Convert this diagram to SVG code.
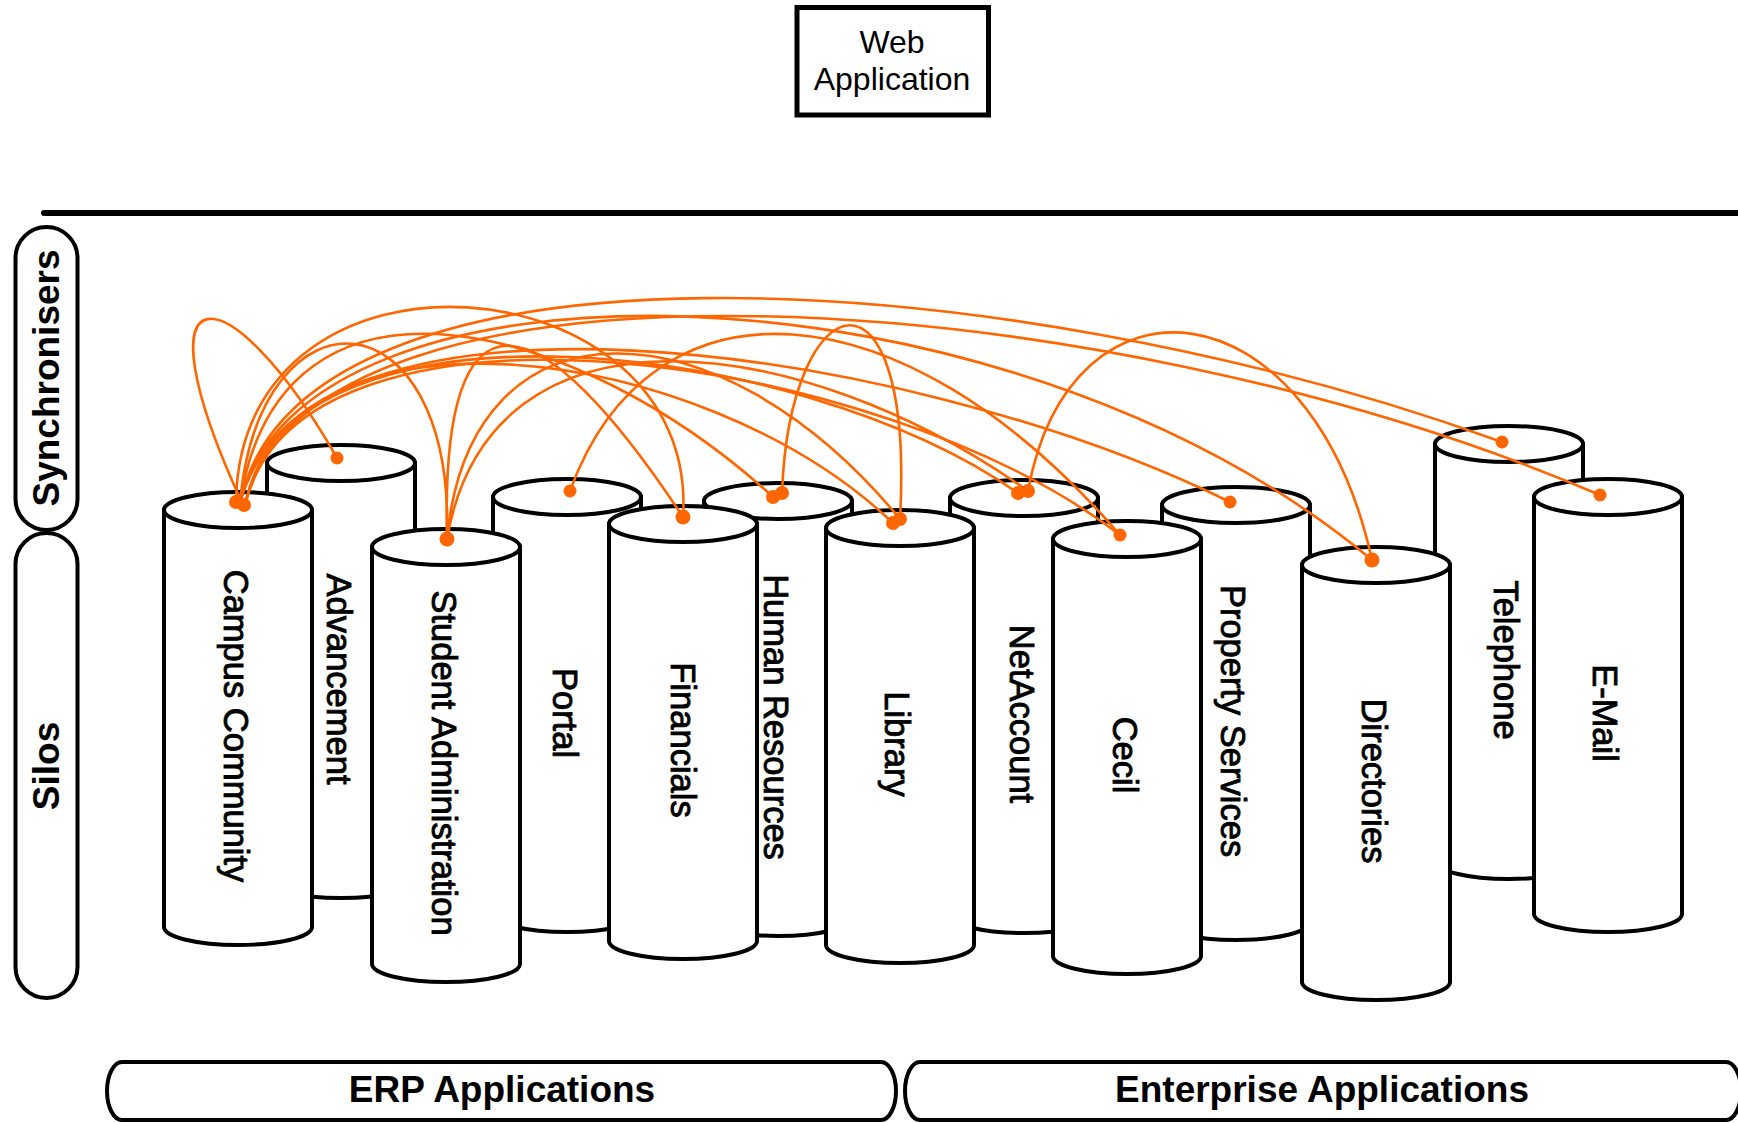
<svg xmlns="http://www.w3.org/2000/svg" width="1738" height="1123" viewBox="0 0 1738 1123">
  <style>
    .outline { fill: #ffffff; stroke: #000000; stroke-width: 4; }
    .label { font-family: "Liberation Sans", Arial, sans-serif; font-size: 34.5px; fill: #000000; stroke: #000000; stroke-width: 0.9; text-anchor: middle; }
    .band { font-family: "Liberation Sans", Arial, sans-serif; font-size: 37px; font-weight: bold; fill: #000000; text-anchor: middle; }
    .web { font-family: "Liberation Sans", Arial, sans-serif; font-size: 32px; fill: #000000; text-anchor: middle; }
    .sync { fill: none; stroke: #ff6600; stroke-width: 2.6; }
    .dot { fill: #ff6600; }
  </style>
  <defs>
    <!-- a silo: open body plus its top ellipse, centred on x=0, top at y=0 -->
    <g id="silo">
      <path class="outline" d="M-74,0 V417 A74,18 0 0 0 74,417 V0 Z"/>
      <ellipse class="outline" cx="0" cy="0" rx="74" ry="18"/>
    </g>
  </defs>

  <rect width="1738" height="1123" fill="#ffffff"/>

  <!-- web application box -->
  <g id="web-application">
    <rect x="797" y="7.5" width="191.5" height="107.5" fill="#ffffff" stroke="#000000" stroke-width="5"/>
    <text class="web" x="892" y="52.5">Web</text>
    <text class="web" x="892" y="89.5">Application</text>
  </g>

  <!-- divider -->
  <line x1="44" y1="213" x2="1745" y2="213" stroke="#000000" stroke-width="6" stroke-linecap="round"/>

  <!-- row labels -->
  <g id="synchronisers">
    <rect class="outline" x="15.5" y="227" width="62" height="303" rx="31" ry="31"/>
    <text class="band" transform="translate(46.5,378) rotate(-90)" dy="0.35em">Synchronisers</text>
  </g>
  <g id="silos">
    <rect class="outline" x="15.5" y="533" width="62" height="465" rx="31" ry="31"/>
    <text class="band" transform="translate(46.5,766) rotate(-90)" dy="0.35em">Silos</text>
  </g>

  <!-- back row of silos -->
  <g id="advancement">
    <use href="#silo" x="341" y="463"/>
    <text class="label" transform="translate(339,679) rotate(90)" dy="0.35em">Advancement</text>
  </g>
  <g id="portal">
    <use href="#silo" x="567" y="497"/>
    <text class="label" transform="translate(565,713) rotate(90)" dy="0.35em">Portal</text>
  </g>
  <g id="human-resources">
    <use href="#silo" x="778" y="501"/>
    <text class="label" transform="translate(776,717) rotate(90)" dy="0.35em">Human Resources</text>
  </g>
  <g id="netaccount">
    <use href="#silo" x="1024" y="498"/>
    <text class="label" transform="translate(1022,714) rotate(90)" dy="0.35em">NetAccount</text>
  </g>
  <g id="property-services">
    <use href="#silo" x="1236" y="505"/>
    <text class="label" transform="translate(1233,721) rotate(90)" dy="0.35em">Property Services</text>
  </g>
  <g id="telephone">
    <use href="#silo" x="1509" y="444"/>
    <text class="label" transform="translate(1506,660) rotate(90)" dy="0.35em">Telephone</text>
  </g>

  <!-- front row of silos -->
  <g id="campus-community">
    <use href="#silo" x="238" y="510"/>
    <text class="label" transform="translate(236,726) rotate(90)" dy="0.35em">Campus Community</text>
  </g>
  <g id="student-administration">
    <use href="#silo" x="446" y="547"/>
    <text class="label" transform="translate(444,763) rotate(90)" dy="0.35em">Student Administration</text>
  </g>
  <g id="financials">
    <use href="#silo" x="683" y="524"/>
    <text class="label" transform="translate(683,740) rotate(90)" dy="0.35em">Financials</text>
  </g>
  <g id="library">
    <use href="#silo" x="900" y="528"/>
    <text class="label" transform="translate(897,744) rotate(90)" dy="0.35em">Library</text>
  </g>
  <g id="cecil">
    <use href="#silo" x="1127" y="539"/>
    <text class="label" transform="translate(1125,755) rotate(90)" dy="0.35em">Cecil</text>
  </g>
  <g id="directories">
    <use href="#silo" x="1376" y="565"/>
    <text class="label" transform="translate(1374,781) rotate(90)" dy="0.35em">Directories</text>
  </g>
  <g id="e-mail">
    <use href="#silo" x="1608" y="497"/>
    <text class="label" transform="translate(1605,713) rotate(90)" dy="0.35em">E-Mail</text>
  </g>

  <!-- synchroniser links between silos -->
  <g id="connectors">
    <path class="sync" d="M243,505 C130,260 230,270 337,458"/>
    <path class="sync" d="M240,503 C260,280 455,290 447,539"/>
    <path class="sync" d="M236,502 C240,220 700,260 683,517"/>
    <path class="sync" d="M240,503 C280,240 580,320 773,497"/>
    <path class="sync" d="M245,505 C290,290 700,340 893,523"/>
    <path class="sync" d="M240,503 C300,280 800,340 1018,493"/>
    <path class="sync" d="M245,505 C300,270 880,350 1120,535"/>
    <path class="sync" d="M240,503 C300,260 900,340 1230,502"/>
    <path class="sync" d="M240,503 C300,240 1000,250 1372,560"/>
    <path class="sync" d="M240,503 C300,220 1000,260 1502,442"/>
    <path class="sync" d="M245,505 C310,230 1100,280 1600,495"/>
    <path class="sync" d="M447,539 C440,270 540,300 683,517"/>
    <path class="sync" d="M447,539 C470,290 720,300 900,519"/>
    <path class="sync" d="M447,539 C490,290 800,330 1028,491"/>
    <path class="sync" d="M570,491 C650,270 900,280 1120,535"/>
    <path class="sync" d="M782,493 C790,280 915,250 900,519"/>
    <path class="sync" d="M1028,491 C1070,260 1310,280 1372,560"/>

    <circle class="dot" cx="236" cy="502" r="7"/>
    <circle class="dot" cx="244" cy="505" r="7"/>
    <circle class="dot" cx="337" cy="458" r="6.5"/>
    <circle class="dot" cx="447" cy="539" r="7.5"/>
    <circle class="dot" cx="570" cy="491" r="6.5"/>
    <circle class="dot" cx="683" cy="517" r="7.5"/>
    <circle class="dot" cx="773" cy="497" r="7"/>
    <circle class="dot" cx="782" cy="493" r="7"/>
    <circle class="dot" cx="893" cy="523" r="7"/>
    <circle class="dot" cx="900" cy="519" r="7"/>
    <circle class="dot" cx="1018" cy="493" r="7"/>
    <circle class="dot" cx="1028" cy="491" r="7"/>
    <circle class="dot" cx="1120" cy="535" r="6.5"/>
    <circle class="dot" cx="1230" cy="502" r="6.5"/>
    <circle class="dot" cx="1372" cy="560" r="7.5"/>
    <circle class="dot" cx="1502" cy="442" r="6.5"/>
    <circle class="dot" cx="1600" cy="495" r="6.5"/>
  </g>

  <!-- application families -->
  <g id="erp-applications">
    <rect class="outline" x="107" y="1062" width="789" height="58" rx="15" ry="29"/>
    <text class="band" x="502" y="1102">ERP Applications</text>
  </g>
  <g id="enterprise-applications">
    <rect class="outline" x="905" y="1062" width="836" height="58" rx="15" ry="29"/>
    <text class="band" x="1322" y="1102">Enterprise Applications</text>
  </g>
</svg>
